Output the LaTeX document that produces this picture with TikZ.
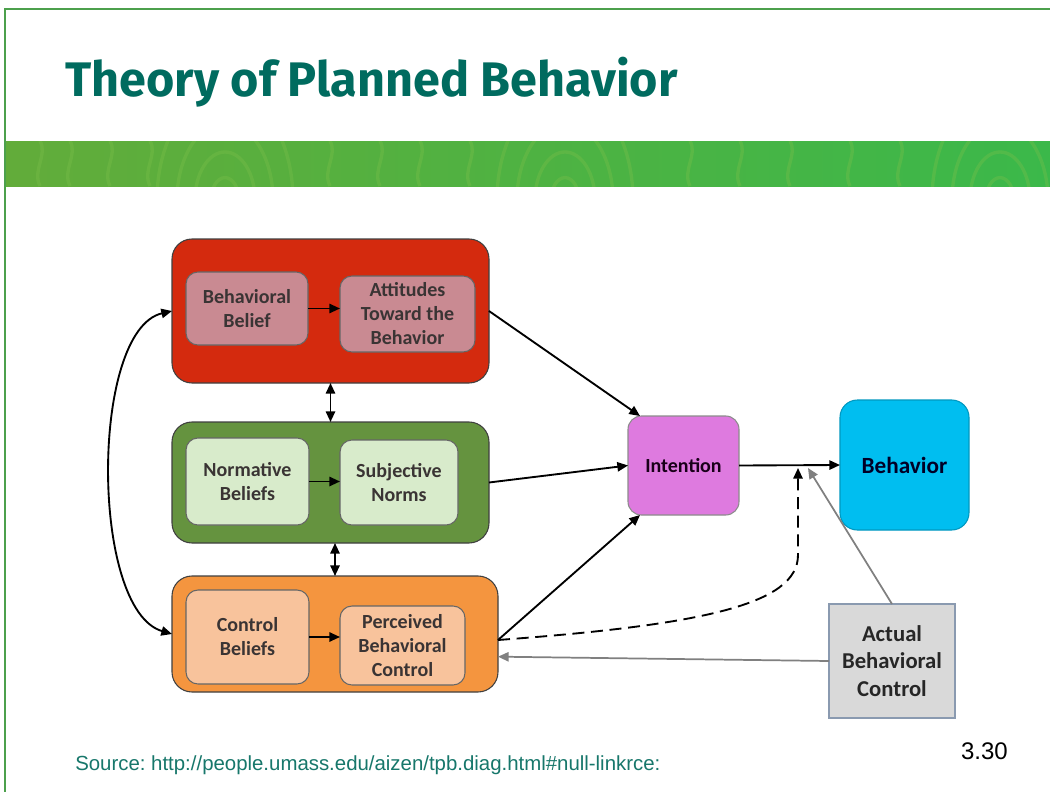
\documentclass[tikz,border=0pt]{standalone}
\usepackage{fontspec}
\setmainfont{Carlito}
\newfontfamily\titlefont{Fira Sans}
\newfontfamily\arialfont{Liberation Sans}
\usetikzlibrary{arrows.meta,calc}
\definecolor{framegreen}{HTML}{4CA04C}
\definecolor{titleteal}{HTML}{006B5F}
\definecolor{bandL}{HTML}{62AC3A}
\definecolor{bandR}{HTML}{3BB84A}
\definecolor{grain}{HTML}{7CC04A}
\definecolor{redbox}{HTML}{D42A0E}
\definecolor{redin}{HTML}{C98A92}
\definecolor{grnbox}{HTML}{65933F}
\definecolor{grnin}{HTML}{D8EBCB}
\definecolor{orgbox}{HTML}{F4953F}
\definecolor{orgin}{HTML}{F8C39C}
\definecolor{intfill}{HTML}{DE7ADF}
\definecolor{behfill}{HTML}{00BEF0}
\definecolor{actfill}{HTML}{D9D9D9}
\definecolor{actedge}{HTML}{8A9AB0}
\definecolor{txtdark}{HTML}{3A3434}
\definecolor{srcteal}{HTML}{17776B}
\tikzset{
  outerbox/.style={draw=black!75, line width=0.8pt, rounded corners=15pt, inner sep=0pt, outer sep=0pt},
  innerbox/.style={draw=black!60, line width=0.8pt, rounded corners=9pt, inner sep=0pt, outer sep=0pt,
     align=center, font=\bfseries\fontsize{15}{18}\selectfont, text=txtdark},
  arr/.style={-{Triangle[length=8pt,width=7pt]}, line width=1.4pt, black},
  darr/.style={{Triangle[length=8pt,width=7pt]}-{Triangle[length=8pt,width=7pt]}, line width=1.4pt, black},
  greyarr/.style={-{Triangle[length=8pt,width=7pt]}, line width=1.3pt, black!50},
  grainline/.style={draw=grain, line width=2.5pt, opacity=0.35},
}
\begin{document}
\begin{tikzpicture}[x=0.75pt,y=-0.75pt]
\useasboundingbox (0,0) rectangle (1050,792);
\fill[white] (0,0) rectangle (1050,792);
% frame
\draw[framegreen, line width=2pt] (5,792) -- (5,9) -- (1050,9);
% band with faint wood grain
\shade[left color=bandL, right color=bandR] (6,141) rectangle (1050,186);
\begin{scope}
  \clip (6,141) rectangle (1050,186);
  \foreach \cx in {225,565,1000} {
    \foreach \r in {14,30,48,68} {
      \draw[grainline] (\cx,200) ellipse [x radius=\r*0.75pt, y radius=\r*1.2pt];
    }
  }
  \foreach \xx in {40,70,110,150,330,380,420,470,690,740,790,850,900} {
    \draw[grainline] (\xx,141) .. controls (\xx+8,155) and (\xx-8,170) .. (\xx,186);
  }
\end{scope}
% title
\node[anchor=base west, inner sep=0pt, text=titleteal, font=\titlefont\bfseries\fontsize{36.4}{42}\selectfont] (title) at (65,97) {Theory of Planned Behavior};

% outer boxes
\node[outerbox, fill=redbox, minimum width=237.75pt, minimum height=108pt] (red) at (330.5,311) {};
\node[outerbox, fill=grnbox, minimum width=237.75pt, minimum height=90.75pt] (grn) at (330.5,482.5) {};
\node[outerbox, fill=orgbox, minimum width=244.5pt, minimum height=87pt] (org) at (335,634) {};

% inner boxes
\node[innerbox, fill=redin, minimum width=91.5pt, minimum height=54.75pt] (bb) at (247,308.5) {Behavioral\\Belief};
\node[innerbox, fill=redin, minimum width=101.25pt, minimum height=57pt] (att) at (407.5,314) {Attitudes\\Toward the\\Behavior};
\node[innerbox, fill=grnin, minimum width=92.25pt, minimum height=65.25pt] (nb) at (247.5,481.5) {Normative\\Beliefs};
\node[innerbox, fill=grnin, minimum width=88.5pt, minimum height=63.75pt] (sn) at (399,482.5) {Subjective\\Norms};
\node[innerbox, fill=orgin, minimum width=92.25pt, minimum height=70.5pt] (cb) at (247.5,637) {Control\\Beliefs};
\node[innerbox, fill=orgin, minimum width=93.75pt, minimum height=59.25pt] (pbc) at (402.5,645.5) {Perceived\\Behavioral\\Control};

% right side
\node[innerbox, draw=black!45, fill=intfill, rounded corners=10pt, minimum width=83.25pt, minimum height=74.25pt, text=black!80!violet, font=\bfseries\fontsize{15}{17}\selectfont] (int) at (683.5,465.5) {Intention};
\node[innerbox, draw=behfill!80!black, fill=behfill, rounded corners=13pt, minimum width=96.75pt, minimum height=97.5pt, text=black!85!blue, font=\bfseries\fontsize{17.4}{19}\selectfont] (beh) at (904.5,465) {Behavior};
\node[innerbox, draw=actedge, line width=1pt, fill=actfill, rounded corners=0pt, minimum width=94.5pt, minimum height=85.5pt, text=black!85, font=\bfseries\fontsize{17}{20.6}\selectfont] (act) at (892,661) {Actual\\Behavioral\\Control};

% inner arrows
\draw[arr] (bb.east) -- (bb.east -| att.west);
\draw[arr] (nb.east) -- (nb.east -| sn.west);
\draw[arr] (cb.east) -- (cb.east -| pbc.west);
% vertical double arrows
\draw[darr] (red.south) -- (grn.north);
\draw[darr] (org.north |- grn.south) -- (org.north);
% left curved double arrow
\draw[darr] (red.west) .. controls (90,330) and (90,610) .. (org.west);
% to intention
\coordinate (orgout) at (498,640);
\draw[arr] (red.east) -- ([xshift=9pt]int.north west);
\draw[arr] (grn.east) -- (int.west);
\draw[arr] (orgout) -- ([xshift=9pt]int.south west);
\draw[arr] (int.east) -- (beh.west);
% dashed
\coordinate (dashend) at (798,468);
\draw[arr, dash pattern=on 9pt off 5pt] (orgout) .. controls (700,625) and (798,605) .. (798,555) -- (dashend);
% grey arrows
\coordinate (greyend) at (808,468);
\draw[greyarr] (act.north) -- (greyend);
\draw[greyarr] (act.west) -- ([yshift=-17pt]org.east);

% footer
\node[anchor=base west, inner sep=0pt, text=srcteal, font=\arialfont\fontsize{15.3}{17}\selectfont] (src) at (75,770) {\frenchspacing Source: http://people.umass.edu/aizen/tpb.diag.html\#null-linkrce:};
\node[anchor=base east, inner sep=0pt, text=black, font=\arialfont\fontsize{18}{20}\selectfont] (pg) at (1008,759) {3.30};
\end{tikzpicture}
\end{document}
